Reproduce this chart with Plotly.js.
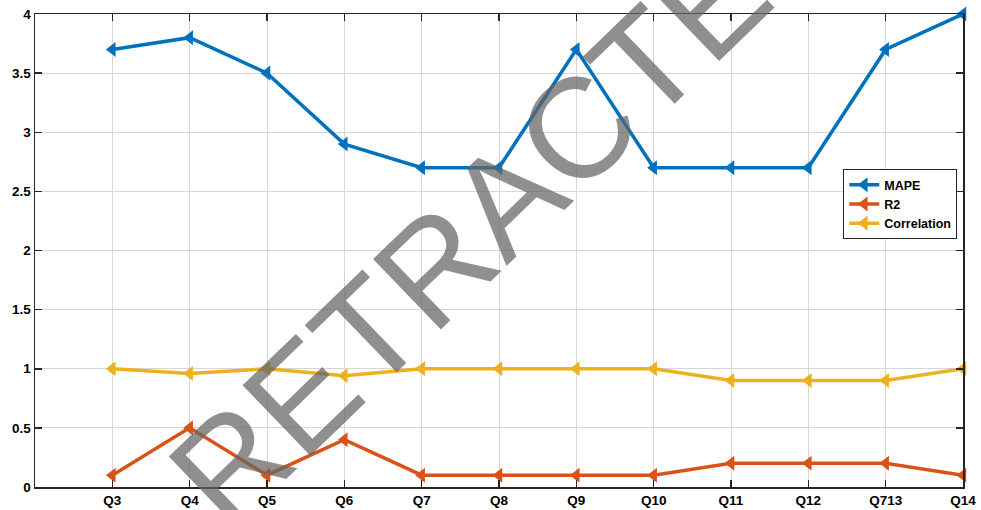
<!DOCTYPE html>
<html>
<head>
<meta charset="utf-8">
<script src="https://cdn.plot.ly/plotly-3.0.1.min.js"></script>
<style>html,body{margin:0;padding:0;background:#fff;}#chart{width:981px;height:510px;}</style>
</head>
<body>
<div id="chart"></div>
<script>
const categories = ["Q3","Q4","Q5","Q6","Q7","Q8","Q9","Q10","Q11","Q12","Q713","Q14"];
const mape = [3.7, 3.8, 3.5, 2.9, 2.7, 2.7, 3.7, 2.7, 2.7, 2.7, 3.7, 4.0];
const r2 = [0.1, 0.5, 0.1, 0.4, 0.1, 0.1, 0.1, 0.1, 0.2, 0.2, 0.2, 0.1];
const correlation = [1.0, 0.96, 1.0, 0.94, 1.0, 1.0, 1.0, 1.0, 0.9, 0.9, 0.9, 1.0];
const yTicks = [0, 0.5, 1, 1.5, 2, 2.5, 3, 3.5, 4];

function series(name, y, color) {
  return {
    x: categories, y: y, name: name, type: 'scatter', mode: 'lines+markers',
    line: {color: color, width: 3.5},
    marker: {symbol: 'triangle-left', size: 13, color: color},
    cliponaxis: false
  };
}
const data = [
  series('MAPE', mape, '#0072BD'),
  series('R2', r2, '#D95319'),
  series('Correlation', correlation, '#EDB120')
];
const axisCommon = {
  showline: true, linecolor: '#262626', linewidth: 1.5, mirror: 'ticks',
  ticks: 'inside', ticklen: 7, tickwidth: 1.5, tickcolor: '#262626',
  showgrid: true, gridcolor: '#d6d6d6', gridwidth: 1, zeroline: false,
  tickfont: {family: 'Liberation Sans, Arial, sans-serif', size: 13.5, color: '#000', weight: 'bold'}
};
const layout = {
  width: 981, height: 510,
  margin: {l: 35, r: 18, t: 14, b: 23},
  paper_bgcolor: '#fff', plot_bgcolor: '#fff',
  showlegend: true,
  xaxis: Object.assign({}, axisCommon, {type: 'category', range: [-1, 11], categoryarray: categories}),
  yaxis: Object.assign({}, axisCommon, {range: [0, 4], tickvals: yTicks, ticktext: yTicks.map(String)}),
  legend: {
    x: 0.871, y: 0.672, xanchor: 'left', yanchor: 'top',
    bgcolor: '#fff', bordercolor: '#262626', borderwidth: 1,
    font: {family: 'Liberation Sans, Arial, sans-serif', size: 12.5, color: '#000', weight: 'bold'},
    tracegroupgap: 0, itemwidth: 30
  },
  annotations: [{
    text: 'RETRACTED', xref: 'paper', yref: 'paper', x: 0.508, y: 0.612,
    xanchor: 'center', yanchor: 'middle', showarrow: false, textangle: -44,
    font: {family: 'Liberation Sans, Arial, sans-serif', size: 142, color: 'rgba(100,100,100,0.72)'}
  }]
};
Plotly.newPlot('chart', data, layout, {displayModeBar: false, staticPlot: true});
</script>
</body>
</html>
